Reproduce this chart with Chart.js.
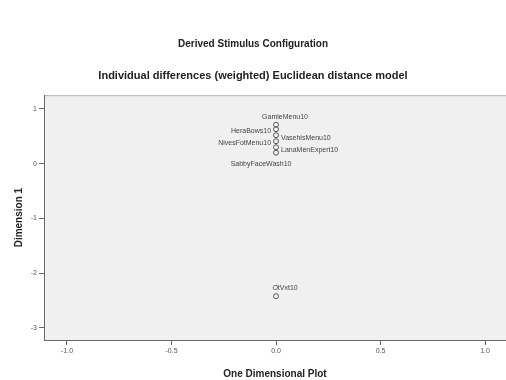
<!DOCTYPE html>
<html>
<head>
<meta charset="utf-8">
<script src="https://cdn.jsdelivr.net/npm/chart.js@4/dist/chart.umd.min.js"></script>
<style>
html,body{margin:0;padding:0;background:#fff;}
#wrap{width:506px;height:380px;}
</style>
</head>
<body>
<div id="wrap"><canvas id="c" width="506" height="380"></canvas></div>
<script>
const stimulusNames = ["GamleMenu10","HeraBows10","VasehisMenu10","NivesFotMenu10","LanaMenExpert10","SabbyFaceWash10","OtVxt10"];
const dimPlotValues = [0, 0, 0, 0, 0, 0, 0];
const dimension1Values = [0.71, 0.63, 0.52, 0.41, 0.30, 0.20, -2.42];
const xTicks = [-1.0, -0.5, 0.0, 0.5, 1.0];
const yTicks = [1, 0, -1, -2, -3];
const labelPlacement = ["above","left","right","left","right","below","above"];

const labelPlugin = {
  id: 'pointLabels',
  beforeDraw(chart) {
    const {ctx, chartArea: a} = chart;
    ctx.save();
    ctx.fillStyle = '#f0f0f0';
    ctx.fillRect(a.left, a.top, a.right - a.left, a.bottom - a.top);
    ctx.strokeStyle = '#b0b0b0';
    ctx.lineWidth = 1;
    ctx.beginPath();
    ctx.moveTo(a.left, a.top + 0.5);
    ctx.lineTo(a.right, a.top + 0.5);
    ctx.stroke();
    ctx.restore();
  },
  afterDatasetsDraw(chart) {
    const {ctx} = chart;
    const meta = chart.getDatasetMeta(0);
    ctx.save();
    ctx.font = '7px "Liberation Sans", Arial, sans-serif';
    ctx.fillStyle = '#444';
    ctx.textBaseline = 'middle';
    meta.data.forEach((pt, i) => {
      const p = labelPlacement[i];
      let x = pt.x, y = pt.y;
      if (p === 'above') { ctx.textAlign = 'center'; x += 9; y -= 8; }
      else if (p === 'below') { ctx.textAlign = 'center'; x -= 15; y += 11; }
      else if (p === 'left') { ctx.textAlign = 'right'; x -= 5; y += 2; }
      else { ctx.textAlign = 'left'; x += 5; y += 3; }
      ctx.fillText(stimulusNames[i], x, y);
    });
    ctx.restore();
  }
};

new Chart(document.getElementById('c'), {
  type: 'scatter',
  data: {
    datasets: [{
      data: dimPlotValues.map((v, i) => ({x: v, y: dimension1Values[i]})),
      pointRadius: 2.5,
      pointStyle: 'circle',
      backgroundColor: 'rgba(0,0,0,0)',
      borderColor: '#555',
      borderWidth: 1
    }]
  },
  options: {
    responsive: false,
    animation: false,
    events: [],
    layout: {autoPadding: false, padding: {top: 0, left: 0, right: 0, bottom: 0}},
    plugins: {
      legend: {display: false},
      tooltip: {enabled: false},
      title: {
        display: true,
        text: 'Derived Stimulus Configuration',
        color: '#222',
        font: {family: '"Liberation Sans", Arial, sans-serif', size: 10, weight: 'bold'},
        padding: {top: 38, bottom: 0}
      },
      subtitle: {
        display: true,
        text: 'Individual differences (weighted) Euclidean distance model',
        color: '#222',
        font: {family: '"Liberation Sans", Arial, sans-serif', size: 11, weight: 'bold'},
        padding: {top: 19, bottom: 13}
      }
    },
    scales: {
      x: {
        type: 'linear',
        min: -1.11,
        max: 1.10,
        afterBuildTicks(s) { s.ticks = xTicks.map(v => ({value: v})); },
        afterFit(s) { s.height = 40; s.paddingLeft = 0; s.paddingRight = 0; },
        grid: {drawOnChartArea: false, drawTicks: true, tickLength: 5, color: '#666'},
        border: {color: '#666', width: 1},
        ticks: {
          color: '#555',
          font: {family: '"Liberation Sans", Arial, sans-serif', size: 7},
          padding: 2,
          callback: v => v.toFixed(1)
        },
        title: {
          display: true,
          text: 'One Dimensional Plot',
          color: '#222',
          font: {family: '"Liberation Sans", Arial, sans-serif', size: 10, weight: 'bold'},
          padding: {top: 6, bottom: 0}
        }
      },
      y: {
        type: 'linear',
        min: -3.22,
        max: 1.25,
        afterBuildTicks(s) { s.ticks = yTicks.map(v => ({value: v})); },
        afterFit(s) { s.width = 44; s.paddingTop = 0; s.paddingBottom = 0; },
        grid: {drawOnChartArea: false, drawTicks: true, tickLength: 5, color: '#666'},
        border: {color: '#666', width: 1},
        ticks: {
          color: '#555',
          font: {family: '"Liberation Sans", Arial, sans-serif', size: 7},
          padding: 2,
          callback: v => String(v)
        },
        title: {
          display: true,
          text: 'Dimension 1',
          color: '#222',
          font: {family: '"Liberation Sans", Arial, sans-serif', size: 10, weight: 'bold'},
          padding: {top: 13, bottom: 6}
        }
      }
    }
  },
  plugins: [labelPlugin]
});
</script>
</body>
</html>
